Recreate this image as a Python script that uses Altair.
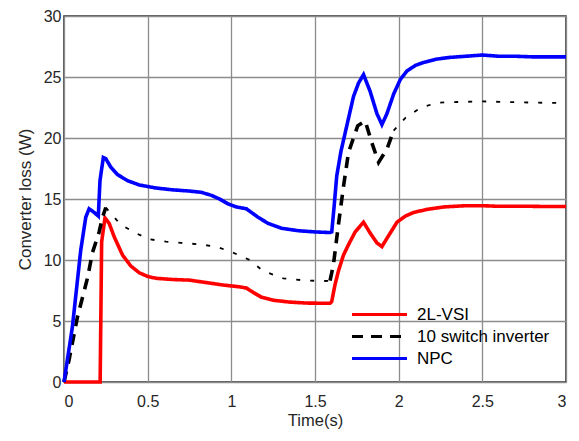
import altair as alt
import pandas as pd

series_names = ["2L-VSI", "10 switch inverter", "NPC"]
series_colors = ["#FF0000", "#000000", "#0000FF"]

# 2L-VSI (red)
x_2l = [0, 0.21, 0.216, 0.225, 0.245, 0.27, 0.30, 0.35, 0.40, 0.45, 0.50, 0.55, 0.65, 0.75,
        0.85, 0.95, 1.05, 1.09, 1.13, 1.18, 1.25, 1.35, 1.45, 1.59, 1.60, 1.62, 1.64, 1.67,
        1.70, 1.74, 1.79, 1.83, 1.87, 1.90, 1.94, 1.99, 2.04, 2.09, 2.17, 2.27, 2.40, 2.50,
        2.60, 2.70, 2.80, 2.90, 3.0]
y_2l = [0, 0, 0, 11.5, 13.45, 13.0, 11.9, 10.4, 9.5, 8.95, 8.65, 8.5, 8.4, 8.35,
        8.15, 7.95, 7.8, 7.7, 7.35, 6.95, 6.7, 6.55, 6.47, 6.45, 6.6, 8.0, 9.1, 10.4,
        11.25, 12.3, 13.1, 12.2, 11.4, 11.1, 12.0, 13.1, 13.6, 13.9, 14.15, 14.35, 14.45, 14.45,
        14.4, 14.4, 14.4, 14.38, 14.38]

# 10 switch inverter (black dashed)
x_10 = [0, 0.03, 0.08, 0.14, 0.17, 0.21, 0.23, 0.25, 0.28, 0.34, 0.43, 0.51, 0.61, 0.70,
        0.80, 0.91, 1.01, 1.11, 1.19, 1.31, 1.42, 1.54, 1.59, 1.61, 1.64, 1.67, 1.70, 1.755,
        1.80, 1.84, 1.88, 1.93, 1.97, 2.04, 2.13, 2.23, 2.35, 2.50, 2.65, 2.80, 3.0]
y_10 = [0, 1.8, 5.3, 8.5, 10.6, 12.3, 13.5, 14.3, 13.8, 12.9, 12.2, 11.7, 11.5, 11.4,
        11.3, 11.1, 10.6, 10.0, 9.1, 8.5, 8.35, 8.27, 8.3, 9.6, 12.9, 16.0, 18.8, 21.0,
        21.4, 19.6, 18.0, 19.1, 20.6, 21.65, 22.46, 22.9, 22.95, 23.0, 22.95, 22.9, 22.87]

# NPC (blue)
x_npc = [0, 0.05, 0.10, 0.13, 0.15, 0.18, 0.205, 0.215, 0.235, 0.25, 0.28, 0.32, 0.38, 0.45,
         0.55, 0.65, 0.75, 0.82, 0.88, 0.93, 0.98, 1.03, 1.09, 1.12, 1.16, 1.22, 1.30, 1.40,
         1.50, 1.59, 1.60, 1.615, 1.63, 1.655, 1.68, 1.73, 1.76, 1.79, 1.83, 1.87, 1.90, 1.93,
         1.97, 2.01, 2.05, 2.10, 2.15, 2.22, 2.30, 2.40, 2.50, 2.60, 2.70, 2.80, 2.90, 3.0]
y_npc = [0, 4.5, 10.8, 13.5, 14.2, 13.9, 13.6, 16.5, 18.4, 18.3, 17.6, 17.0, 16.5, 16.15,
         15.9, 15.75, 15.65, 15.55, 15.3, 15.0, 14.6, 14.35, 14.2, 13.9, 13.5, 13.0, 12.6, 12.4,
         12.3, 12.25, 12.3, 14.5, 16.9, 18.9, 20.4, 23.4, 24.5, 25.2, 23.8, 22.0, 21.1, 22.0,
         23.6, 24.8, 25.5, 25.95, 26.2, 26.45, 26.6, 26.7, 26.8, 26.7, 26.7, 26.65, 26.65, 26.65]

x_ticks = [0, 0.5, 1, 1.5, 2, 2.5, 3]
y_ticks = [0, 5, 10, 15, 20, 25, 30]

FONT = "Liberation Sans"


def seg_10(x):
    # segments of the black curve: steep parts drawn with bold dashes, flat parts fine dashes
    out = []
    if x <= 0.25:
        out.append("s1")
    if 0.25 <= x <= 1.59:
        out.append("f1")
    if 1.59 <= x <= 1.97:
        out.append("s2")
    if x >= 1.97:
        out.append("f2")
    return out


main_rows = []
flat_rows = []
for xv, yv in zip(x_2l, y_2l):
    main_rows.append({"t": xv, "loss": yv, "series": series_names[0], "seg": "a"})
for xv, yv in zip(x_10, y_10):
    for s in seg_10(xv):
        row = {"t": xv, "loss": yv, "series": series_names[1], "seg": s}
        if s.startswith("s"):
            main_rows.append(row)
        else:
            flat_rows.append(row)
for xv, yv in zip(x_npc, y_npc):
    main_rows.append({"t": xv, "loss": yv, "series": series_names[2], "seg": "a"})

main_df = pd.DataFrame(main_rows)
flat_df = pd.DataFrame(flat_rows)

x_enc = alt.X("t:Q", scale=alt.Scale(domain=[0, 3], nice=False),
              axis=alt.Axis(values=x_ticks, format="~g", title="Time(s)"))
y_enc = alt.Y("loss:Q", scale=alt.Scale(domain=[0, 30], nice=False),
              axis=alt.Axis(values=y_ticks, title="Converter loss (W)"))

flat = alt.Chart(flat_df).mark_line(strokeWidth=1.8, color="#000000", strokeDash=[4, 10]).encode(
    x=x_enc, y=y_enc, detail="seg:N", order="t:Q"
)

main = alt.Chart(main_df).mark_line(strokeWidth=3.6).encode(
    x=x_enc,
    y=y_enc,
    color=alt.Color("series:N", scale=alt.Scale(domain=series_names, range=series_colors),
                    legend=alt.Legend(title=None, orient="none", legendX=304, legendY=287,
                                      symbolType="M-2.75,0H2.75", symbolSize=400,
                                      symbolStrokeWidth=3,
                                      labelFontSize=17, labelFont=FONT, labelColor="#000000",
                                      labelOffset=26, rowPadding=2)),
    strokeDash=alt.StrokeDash("series:N",
                              scale=alt.Scale(domain=series_names, range=[[1, 0], [11, 8], [1, 0]]),
                              legend=None),
    detail="seg:N",
    order="t:Q",
)

chart = alt.layer(flat, main).properties(
    width=502, height=366,
    autosize=alt.AutoSizeParams(type="none"),
    padding={"left": 56, "top": 8, "right": 5, "bottom": 49},
).configure_view(
    stroke="#262626", strokeWidth=1.5
).configure_axis(
    grid=True, gridColor="#8c8c8c", gridWidth=1.3, ticks=False, domain=False,
    labelFont=FONT, labelFontSize=16, labelColor="#262626",
    titleFont=FONT, titleFontWeight="normal", titleColor="#262626",
).configure_axisX(
    labelPadding=11, titlePadding=3, titleFontSize=16.5
).configure_axisY(
    labelPadding=3, titlePadding=9, titleFontSize=17
)

chart.save("out.html", embed_options={"renderer": "svg", "actions": False})
